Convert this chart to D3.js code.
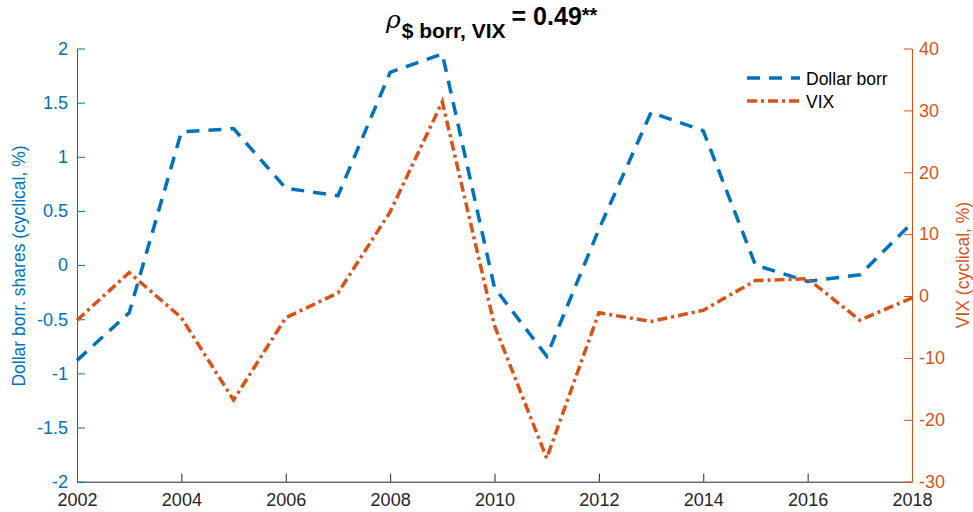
<!DOCTYPE html>
<html>
<head>
<meta charset="utf-8">
<script src="https://cdn.jsdelivr.net/npm/d3@7"></script>
<style>
  body { margin: 0; background: #fff; }
  svg { font-family: "Liberation Sans", Arial, Helvetica, sans-serif; }
</style>
</head>
<body>
<div id="container"></div>
<script>
let w = 973;
let h = 512;

// data
let years = [2002, 2003, 2004, 2005, 2006, 2007, 2008, 2009, 2010, 2011, 2012, 2013, 2014, 2015, 2016, 2017, 2018];
let dollarBorr = [-0.88, -0.44, 1.23, 1.26, 0.71, 0.64, 1.78, 1.95, -0.21, -0.84, 0.33, 1.41, 1.24, 0.0, -0.15, -0.09, 0.39];
let vix = [-3.9, 3.8, -3.5, -16.8, -3.5, 0.5, 13.6, 31.4, -4.8, -26.2, -2.7, -4.1, -2.3, 2.5, 2.8, -3.9, -0.3];
let xTicks = [2002, 2004, 2006, 2008, 2010, 2012, 2014, 2016, 2018];
let leftTicks = [-2, -1.5, -1, -0.5, 0, 0.5, 1, 1.5, 2];
let rightTicks = [-30, -20, -10, 0, 10, 20, 30, 40];
let seriesNames = ["Dollar borr", "VIX"];

let blue = "#0072BD";
let orange = "#D95319";
let axisGrey = "#262626";

let plotL = 77, plotR = 912, plotT = 48.5, plotB = 481.7;

let viz = d3.select("#container").append("svg")
    .attr("width", w)
    .attr("height", h);

let x = d3.scaleLinear().domain([2002, 2018]).range([plotL, plotR]);
let yL = d3.scaleLinear().domain([-2, 2]).range([plotB, plotT]);
let yR = d3.scaleLinear().domain([-30, 40]).range([plotB, plotT]);

// bottom axis, ticks pointing inward
let xAxis = viz.append("g")
    .attr("transform", "translate(0," + plotB + ")")
    .call(d3.axisBottom(x).tickValues(xTicks).tickFormat(d3.format("d")).tickSizeInner(-8).tickSizeOuter(0).tickPadding(12));
xAxis.select(".domain").attr("stroke", axisGrey);
xAxis.selectAll(".tick line").attr("stroke", axisGrey);
xAxis.selectAll("text").attr("fill", axisGrey).style("font-size", "18px");

// left axis
let lAxis = viz.append("g")
    .attr("transform", "translate(" + plotL + ",0)")
    .call(d3.axisLeft(yL).tickValues(leftTicks).tickFormat(d => String(d)).tickSizeInner(-8).tickSizeOuter(0).tickPadding(9));
lAxis.select(".domain").attr("stroke", blue);
lAxis.selectAll(".tick line").attr("stroke", blue);
lAxis.selectAll("text").attr("fill", blue).style("font-size", "18px");

// right axis
let rAxis = viz.append("g")
    .attr("transform", "translate(" + plotR + ",0)")
    .call(d3.axisRight(yR).tickValues(rightTicks).tickFormat(d => String(d)).tickSizeInner(-8).tickSizeOuter(0).tickPadding(7));
rAxis.select(".domain").attr("stroke", orange);
rAxis.selectAll(".tick line").attr("stroke", orange);
rAxis.selectAll("text").attr("fill", orange).style("font-size", "18px");

// axis titles
viz.append("text")
    .attr("transform", "translate(25," + 266 + ") rotate(-90)")
    .attr("text-anchor", "middle")
    .attr("fill", blue)
    .style("font-size", "17.5px")
    .text("Dollar borr. shares (cyclical, %)");

viz.append("text")
    .attr("transform", "translate(969," + 265 + ") rotate(-90)")
    .attr("text-anchor", "middle")
    .attr("fill", orange)
    .style("font-size", "17.5px")
    .text("VIX (cyclical, %)");

// lines
let lineL = d3.line().x((d, i) => x(years[i])).y(d => yL(d));
let lineR = d3.line().x((d, i) => x(years[i])).y(d => yR(d));

viz.append("path")
    .datum(dollarBorr)
    .attr("d", lineL)
    .attr("fill", "none")
    .attr("stroke", blue)
    .attr("stroke-width", 3.5)
    .attr("stroke-dasharray", "13,9");

viz.append("path")
    .datum(vix)
    .attr("d", lineR)
    .attr("fill", "none")
    .attr("stroke", orange)
    .attr("stroke-width", 3.5)
    .attr("stroke-dasharray", "10,4,3,4");

// title
let title = viz.append("text")
    .attr("x", 386)
    .attr("y", 25)
    .attr("fill", "#000")
    .style("font-weight", "bold");
title.append("tspan").attr("dy", 3).style("font-style", "italic").style("font-size", "25px").style("font-family", "'DejaVu Serif', serif").style("font-weight", "normal").text("ρ");
title.append("tspan").attr("dy", 10).attr("dx", 1).style("font-size", "21px").text("$ borr, VIX");
title.append("tspan").attr("dy", -13).attr("dx", 6).style("font-size", "25px").text("= 0.49");
title.append("tspan").attr("dy", -3).style("font-size", "20px").text("**");

// legend
let legend = viz.append("g");
let legendStyles = [{ c: blue, d: "13,9" }, { c: orange, d: "10,4,3,4" }];
seriesNames.forEach(function (name, i) {
  let ly = 78 + i * 23;
  legend.append("line")
      .attr("x1", 747).attr("x2", 800)
      .attr("y1", ly).attr("y2", ly)
      .attr("stroke", legendStyles[i].c)
      .attr("stroke-width", 3.5)
      .attr("stroke-dasharray", legendStyles[i].d);
  legend.append("text")
      .attr("x", 806).attr("y", ly + 6.5)
      .attr("fill", "#000")
      .style("font-size", "17.5px")
      .text(name);
});
</script>
</body>
</html>
